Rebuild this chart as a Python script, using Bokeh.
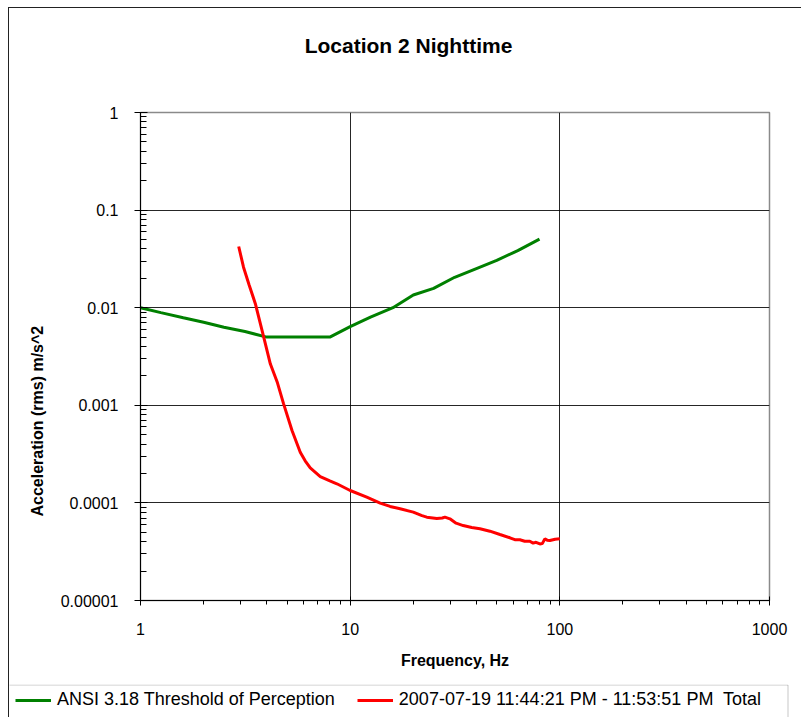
from bokeh.plotting import figure
from bokeh.layouts import column
from bokeh.models import (Range1d, FixedTicker, Legend, LegendItem, Title,
                          BoxAnnotation, Label)
from bokeh.embed import file_html
from bokeh.resources import INLINE

FONT = "Liberation Sans"

# ---- texts -------------------------------------------------------------
title_text = "Location 2 Nighttime"
x_label = "Frequency, Hz"
y_label = "Acceleration (rms) m/s^2"

# ---- axes ----------------------------------------------------------------
x_ticks = [1, 10, 100, 1000]
x_tick_labels = ["1", "10", "100", "1000"]
y_ticks = [1e-5, 1e-4, 1e-3, 1e-2, 1e-1, 1.0]
y_tick_labels = ["0.00001", "0.0001", "0.001", "0.01", "0.1", "1"]

# ---- series: ANSI S3.18 perception threshold (1/3-octave bands) ----------
threshold_name = "ANSI 3.18 Threshold of Perception"
threshold_freq = [1, 1.25, 1.6, 2, 2.5, 3.15, 4, 5, 6.3, 8,
                  10, 12.5, 16, 20, 25, 31.5, 40, 50, 63, 80]
threshold_acc = [0.0100, 0.0089, 0.0079, 0.0071, 0.0063, 0.0057, 0.0050,
                 0.0050, 0.0050, 0.0050, 0.0064, 0.0080, 0.0100, 0.0135,
                 0.0158, 0.0205, 0.0252, 0.0305, 0.0385, 0.0505]

# ---- series: measured total acceleration --------------------------------
measured_name = "2007-07-19 11:44:21 PM - 11:53:51 PM  Total"
measured_freq = [2.94, 3.10, 3.30, 3.53, 3.87, 4.16, 4.50, 4.81, 5.28, 5.78,
                 6.10, 6.45, 7.20, 8.00, 8.64, 10.0, 12.0, 13.9, 15.5, 17.3,
                 20.0, 22.0, 23.2, 25.9, 27.5, 28.3, 29.9, 32.0, 34.6, 38.0,
                 41.6, 46.4, 51.8, 57.8, 61.0, 64.5, 68.0, 71.9, 74.6, 77.0,
                 80.3, 82.5, 84.8, 87.0, 89.6, 95.0, 100.0]
measured_acc = [0.0424, 0.0260, 0.0170, 0.0110, 0.0050, 0.00266, 0.00170,
                0.00104, 0.000552, 0.000331, 0.000270, 0.000228, 0.000186,
                0.000168, 0.000157, 0.000134, 0.0001145, 0.0000994,
                0.0000920, 0.0000870, 0.0000804, 0.0000740, 0.0000714,
                0.0000692, 0.0000700, 0.0000714, 0.0000687, 0.0000620,
                0.0000586, 0.0000560, 0.0000543, 0.0000513, 0.0000474,
                0.0000439, 0.0000420, 0.0000419, 0.0000405, 0.0000405,
                0.0000387, 0.0000395, 0.0000380, 0.0000383, 0.0000428,
                0.0000415, 0.0000412, 0.0000425, 0.0000428]

GREEN = "#008000"
RED = "#ff0000"

W = 792          # canvas width inside the page frame
H_HEAD = 60      # title strip
H_MAIN = 616     # chart part
H_LEG = 33       # legend strip


def strip(height):
    """A bare figure whose ranges map 1:1 onto its pixels."""
    f = figure(width=W, height=height,
               x_range=Range1d(0, W), y_range=Range1d(0, height),
               output_backend="svg", toolbar_location=None,
               min_border=0, min_border_left=0, min_border_right=0,
               min_border_top=0, min_border_bottom=0)
    f.frame_align = False
    f.axis.visible = False
    f.grid.visible = False
    f.outline_line_color = None
    f.background_fill_color = "white"
    f.border_fill_color = "white"
    return f


# ---- title strip ---------------------------------------------------------
head = strip(H_HEAD)
head.add_layout(Label(x=399, y=23, text=title_text, text_font=FONT,
                      text_font_size="21px", text_font_style="bold",
                      text_color="black", text_align="center",
                      text_baseline="middle"))

# ---- main chart ----------------------------------------------------------
p = figure(width=W, height=H_MAIN,
           x_axis_type="log", y_axis_type="log",
           x_range=Range1d(1, 1000), y_range=Range1d(1e-5, 1),
           output_backend="svg", toolbar_location=None,
           min_border_left=131, min_border_right=32,
           min_border_top=44, min_border_bottom=84)
p.frame_align = False
p.title.text = ""
p.title.standoff = 0
p.background_fill_color = "white"
p.border_fill_color = "white"
p.outline_line_color = "#8a8a8a"
p.outline_line_width = 1.5


def minor_positions(lo_exp, hi_exp):
    return [m * 10.0 ** e for e in range(lo_exp, hi_exp) for m in range(2, 10)]


# x axis
xa = p.xaxis[0]
xa.ticker = FixedTicker(ticks=x_ticks, minor_ticks=minor_positions(0, 3))
xa.major_label_overrides = {t: s for t, s in zip(x_ticks, x_tick_labels)}
xa.axis_label = x_label
xa.axis_label_text_font = FONT
xa.axis_label_text_font_style = "bold"
xa.axis_label_text_font_size = "16px"
xa.axis_label_text_color = "black"
xa.axis_label_standoff = 14
xa.major_label_text_font = FONT
xa.major_label_text_font_size = "16px"
xa.major_label_text_color = "black"
xa.major_label_standoff = 17
xa.axis_line_color = "black"
xa.major_tick_line_color = "black"
xa.minor_tick_line_color = "black"
xa.major_tick_in = 4
xa.major_tick_out = 5
xa.minor_tick_in = 0
xa.minor_tick_out = 4

# y axis
ya = p.yaxis[0]
ya.ticker = FixedTicker(ticks=y_ticks, minor_ticks=minor_positions(-5, 0))
ya.major_label_overrides = {t: s for t, s in zip(y_ticks, y_tick_labels)}
ya.major_label_text_font = FONT
ya.major_label_text_font_size = "16px"
ya.major_label_text_color = "black"
ya.major_label_standoff = 16
ya.axis_line_color = "black"
ya.major_tick_line_color = "black"
ya.minor_tick_line_color = "black"
ya.major_tick_in = 7
ya.major_tick_out = 6
ya.minor_tick_in = 6
ya.minor_tick_out = 0

# vertical caption, set off below the frame's middle
p.add_layout(Title(text=y_label, align="left", offset=84, standoff=23,
                   text_font=FONT, text_font_size="16px",
                   text_font_style="bold", text_color="black"), "left")

# grid: interior decades only
p.xgrid.ticker = FixedTicker(ticks=x_ticks[1:-1])
p.ygrid.ticker = FixedTicker(ticks=y_ticks[1:-1])
for g in (p.xgrid, p.ygrid):
    g.grid_line_color = "black"
    g.grid_line_width = 1
    g.grid_line_alpha = 0.85

# series
p.line(threshold_freq, threshold_acc, line_color=GREEN, line_width=3)
p.line(measured_freq, measured_acc, line_color=RED, line_width=3)

# ---- legend strip --------------------------------------------------------
leg = strip(H_LEG)

# key swatches: drawn off-range so only the legend shows them
key_thr = leg.line([-50, -40], [-50, -50], line_color=GREEN, line_width=3)
key_meas = leg.line([-50, -40], [-50, -50], line_color=RED, line_width=3)

leg.add_layout(BoxAnnotation(left=-10, right=778.5, top=32.5, bottom=-10,
                             fill_alpha=0, line_color="#444444",
                             line_width=1))

legend = Legend(items=[LegendItem(label=threshold_name, renderers=[key_thr]),
                       LegendItem(label=measured_name, renderers=[key_meas])],
                location=(0, 1), orientation="horizontal",
                label_text_font=FONT, label_text_font_size="18px",
                label_text_color="black",
                glyph_width=36, glyph_height=20, label_height=20,
                label_standoff=6, spacing=22, padding=6, margin=0,
                border_line_alpha=0, background_fill_alpha=0)
leg.add_layout(legend)

page = column(head, p, leg, spacing=0)
page.styles = {"margin-left": "8px", "margin-top": "7px",
               "border-left": "1px solid #222222",
               "border-top": "1px solid #222222"}

open("out.html", "w").write(file_html(page, INLINE))
